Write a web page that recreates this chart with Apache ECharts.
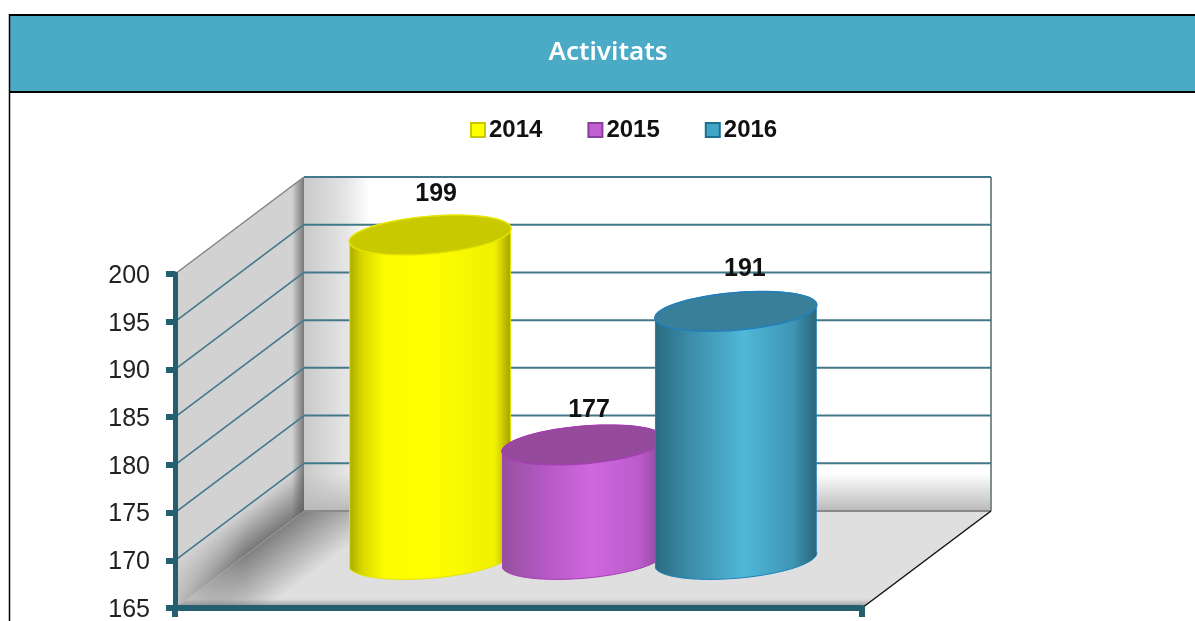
<!DOCTYPE html>
<html>
<head>
<meta charset="utf-8">
<style>html,body{margin:0;padding:0;background:#fff}#c{width:1195px;height:621px}</style>
<script src="https://cdn.jsdelivr.net/npm/echarts@6/dist/echarts.min.js"></script>
</head>
<body>
<div id="c"></div>
<script>
const chartTitle = 'Activitats';
const categories = [''];
const seriesNames = ['2014', '2015', '2016'];
const values2014 = [199];
const values2015 = [177];
const values2016 = [191];
const tickValues = [165, 170, 175, 180, 185, 190, 195, 200];

const axisColor = '#245f70';
const gridColor = '#42788a';
const depth = { dx: 129, dy: -97 };
const yMin = 165, yMax = 200;

const bars = [
  { values: values2014, name: seriesNames[0], legend: '#ffff00', legendEdge: '#c9c900', top: '#c9c900', edge: '#e6e600',
    stops: [[0,'#a8a800'],[.08,'#d8d800'],[.22,'#fcfc00'],[.5,'#ffff00'],[.9,'#f0f000'],[1,'#a0a000']], shift: -0.2225, labelDx: 6, labelDy: -41 },
  { values: values2015, name: seriesNames[1], legend: '#c25fd2', legendEdge: '#8a3f9a', top: '#954a9c', edge: '#a33fae',
    stops: [[0,'#96509f'],[.25,'#b258c2'],[.55,'#d066e0'],[.85,'#bb5ccb'],[1,'#8a4494']], shift: 0, labelDx: 6, labelDy: -35 },
  { values: values2016, name: seriesNames[2], legend: '#3fa6c6', legendEdge: '#1f6f8f', top: '#3a7f99', edge: '#1f80bd',
    stops: [[0,'#2a6a80'],[.2,'#3a8ba6'],[.55,'#4fb8d8'],[.85,'#3f96b4'],[1,'#2a6478']], shift: 0.2225, labelDx: 9, labelDy: -42 }
];

function wallsItem(params, api) {
  const cs = params.coordSys;
  const L = cs.x, R = cs.x + cs.width;
  const yb = api.coord([0, yMin])[1], yt = api.coord([0, yMax])[1];
  const d = depth;
  const side = [[L, yt], [L + d.dx, yt + d.dy], [L + d.dx, yb + d.dy], [L, yb]];
  const floor = [[L, yb], [L + d.dx, yb + d.dy], [R + d.dx, yb + d.dy], [R, yb]];
  const back = { x: L + d.dx, y: yt + d.dy, width: cs.width, height: yb - yt };
  const mx = L + d.dx / 2, my = yb + d.dy / 2;
  const lin = (x, y, x2, y2, stops) => ({ type: 'linear', x, y, x2, y2, global: true,
    colorStops: stops.map(s => ({ offset: s[0], color: s[1] })) });
  return { type: 'group', silent: true, children: [
    { type: 'rect', shape: back, style: { fill: lin(back.x, 0, back.x + 66, 0,
        [[0,'#c9c9c9'],[.3,'#d6d6d6'],[.65,'#e6e6e6'],[1,'#ffffff']]) } },
    { type: 'rect', shape: { x: back.x, y: back.y + back.height - 38, width: back.width, height: 38 },
      style: { fill: lin(0, back.y + back.height - 38, 0, back.y + back.height,
        [[0,'rgba(190,190,190,0)'],[1,'rgba(185,185,185,1)']]) } },
    { type: 'polygon', shape: { points: side }, style: { fill: '#d2d2d2' } },
    { type: 'polygon', shape: { points: side }, style: { fill: lin(L + d.dx - 12, 0, L + d.dx, 0,
        [[0,'rgba(110,110,110,0)'],[1,'rgba(110,110,110,.9)']]) } },
    { type: 'polygon', shape: { points: side }, style: { fill: lin(mx, my, mx - 22, my - 30,
        [[0,'rgba(95,95,95,.8)'],[1,'rgba(95,95,95,0)']]) } },
    // the seam fades out toward the front corner, on the wall ...
    { type: 'polygon', shape: { points: side }, style: { fill: lin(L, 0, L + 70, 0,
        [[0,'rgba(210,210,210,.8)'],[1,'rgba(210,210,210,0)']]) } },
    { type: 'polygon', shape: { points: floor }, style: { fill: '#dfdfdf' } },
    { type: 'polygon', shape: { points: floor }, style: { fill: lin(mx, my, mx + 33, my + 44,
        [[0,'rgba(105,105,105,.8)'],[1,'rgba(105,105,105,0)']]) } },
    // ... and on the floor
    { type: 'polygon', shape: { points: floor }, style: { fill: lin(L, 0, L + 70, 0,
        [[0,'rgba(223,223,223,.8)'],[1,'rgba(223,223,223,0)']]) } },
    { type: 'polygon', shape: { points: floor }, style: { fill: lin(0, yb - 9, 0, yb,
        [[0,'rgba(110,110,110,0)'],[1,'rgba(110,110,110,.7)']]) } },
    { type: 'line', shape: { x1: L, y1: yt, x2: L + d.dx, y2: yt + d.dy }, style: { stroke: '#7f8585', lineWidth: 1.5 } },
    { type: 'line', shape: { x1: R + d.dx, y1: yt + d.dy, x2: R + d.dx, y2: yb + d.dy }, style: { stroke: '#7f8d90', lineWidth: 2 } },
    { type: 'line', shape: { x1: L + d.dx, y1: yb + d.dy, x2: R + d.dx, y2: yb + d.dy }, style: { stroke: '#8a8a8a', lineWidth: 2 } },
    { type: 'line', shape: { x1: R + d.dx, y1: yb + d.dy, x2: R, y2: yb }, style: { stroke: '#111', lineWidth: 1.5 } }
  ] };
}

function gridLineItem(params, api) {
  const cs = params.coordSys;
  const v = api.value(0);
  if (v === yMin) return null;
  const y = api.coord([0, v])[1];
  const L = cs.x, R = cs.x + cs.width, d = depth;
  const children = [
    { type: 'line', shape: { x1: L + d.dx, y1: y + d.dy, x2: R + d.dx, y2: y + d.dy }, style: { stroke: gridColor, lineWidth: 2 } }
  ];
  if (v !== yMax) {
    children.push({ type: 'line', shape: { x1: L, y1: y, x2: L + d.dx, y2: y + d.dy }, style: { stroke: gridColor, lineWidth: 1.6 } });
  }
  return { type: 'group', silent: true, children };
}

// tilted ellipse outline between two parametric angles
function arc(cx, cy, a, b, phi, t0, t1) {
  const pts = [], n = 60;
  for (let i = 0; i <= n; i++) {
    const t = t0 + (t1 - t0) * i / n;
    const ex = a * Math.cos(t), ey = b * Math.sin(t);
    pts.push([cx + ex * Math.cos(phi) + ey * Math.sin(phi), cy - ex * Math.sin(phi) + ey * Math.cos(phi)]);
  }
  return pts;
}

function barRenderer(bar) {
  return function (params, api) {
    const band = api.size([1, 0])[0];
    const top = api.coord([0, api.value(1)]);
    const base = api.coord([0, yMin]);
    const cx = top[0] + bar.shift * band + depth.dx / 2;
    const yTop = top[1] + depth.dy / 2, yBase = base[1] + depth.dy / 2;
    const a = band * 0.1183, b = a * 0.231, phi = 4.84 * Math.PI / 180;
    const W = band * 0.118;
    const topPts = arc(cx, yTop, a, b, phi, 0, 2 * Math.PI);
    const body = arc(cx, yBase, a, b, phi, -phi * 1.2, Math.PI - phi * 1.2)
      .concat(arc(cx, yTop, a, b, phi, Math.PI - phi * 1.2, 2 * Math.PI - phi * 1.2));
    const fill = { type: 'linear', x: cx - W, y: 0, x2: cx + W, y2: 0, global: true,
      colorStops: bar.stops.map(s => ({ offset: s[0], color: s[1] })) };
    return { type: 'group', children: [
      { type: 'polygon', shape: { points: body }, style: { fill, stroke: bar.edge, lineWidth: 1 } },
      { type: 'polygon', shape: { points: topPts }, style: { fill: bar.top, stroke: bar.edge, lineWidth: 1.4 } },
      { type: 'text', z2: 10, style: { text: String(api.value(1)), x: cx + bar.labelDx, y: yTop + bar.labelDy,
          align: 'center', verticalAlign: 'middle', fill: '#111',
          font: 'bold 25px "Liberation Sans", Arial, sans-serif' } }
    ] };
  };
}

const option = {
  animation: false,
  backgroundColor: '#ffffff',
  title: {
    text: chartTitle, left: 603, top: 35, textAlign: 'center',
    textStyle: { color: '#fff', fontFamily: '"Noto Sans"', fontWeight: 600, fontSize: 26 }
  },
  legend: {
    data: seriesNames, left: 465, top: 113, itemWidth: 14, itemHeight: 14, itemGap: 45, icon: 'rect',
    textStyle: { fontFamily: '"Liberation Sans"', fontWeight: 'bold', fontSize: 24, color: '#111', padding: [1, 0, 0, -1] },
    selectedMode: false
  },
  graphic: [
    { type: 'rect', z: -10, silent: true, shape: { x: 10, y: 15, width: 1185, height: 77 }, style: { fill: '#4babc6' } },
    { type: 'line', z: -9, silent: true, shape: { x1: 9, y1: 15, x2: 1195, y2: 15 }, style: { stroke: '#000', lineWidth: 2 } },
    { type: 'line', z: -9, silent: true, shape: { x1: 9, y1: 92, x2: 1195, y2: 92 }, style: { stroke: '#000', lineWidth: 2 } },
    { type: 'line', z: -9, silent: true, shape: { x1: 9.5, y1: 14, x2: 9.5, y2: 621 }, style: { stroke: '#000', lineWidth: 1.5 } }
  ],
  grid: { left: 175, top: 274, width: 687, height: 334, outerBoundsMode: 'none' },
  xAxis: {
    type: 'category', data: categories, z: 20,
    axisLine: { lineStyle: { color: axisColor, width: 6 } },
    axisTick: { show: true, length: 9, lineStyle: { color: axisColor, width: 6 } },
    axisLabel: { show: false }
  },
  yAxis: {
    type: 'value', min: yMin, max: yMax, interval: 5, z: 20,
    splitLine: { show: false },
    axisLine: { show: true, lineStyle: { color: axisColor, width: 5 } },
    axisTick: { show: true, length: 9, lineStyle: { color: axisColor, width: 6 } },
    axisLabel: { fontFamily: '"Liberation Sans"', fontSize: 25, color: '#222', margin: 25,
      verticalAlign: 'top', lineHeight: 4 }
  },
  series: [
    { type: 'custom', name: 'walls', z: 1, renderItem: wallsItem, data: [[0]], encode: { x: 0 }, silent: true, tooltip: { show: false } },
    { type: 'custom', name: 'gridlines', z: 2, renderItem: gridLineItem, data: tickValues.map(v => [v]), encode: { y: 0 }, silent: true }
  ].concat(bars.map((bar, i) => ({
    type: 'custom', name: bar.name, z: 3 + i, renderItem: barRenderer(bar),
    itemStyle: { color: bar.legend, borderColor: bar.legendEdge, borderWidth: 1.5 },
    data: categories.map((c, j) => [j, bar.values[j]]),
    encode: { x: 0, y: 1 }
  })))
};

echarts.init(document.getElementById('c'), null, { renderer: 'canvas' }).setOption(option);
</script>
</body>
</html>
